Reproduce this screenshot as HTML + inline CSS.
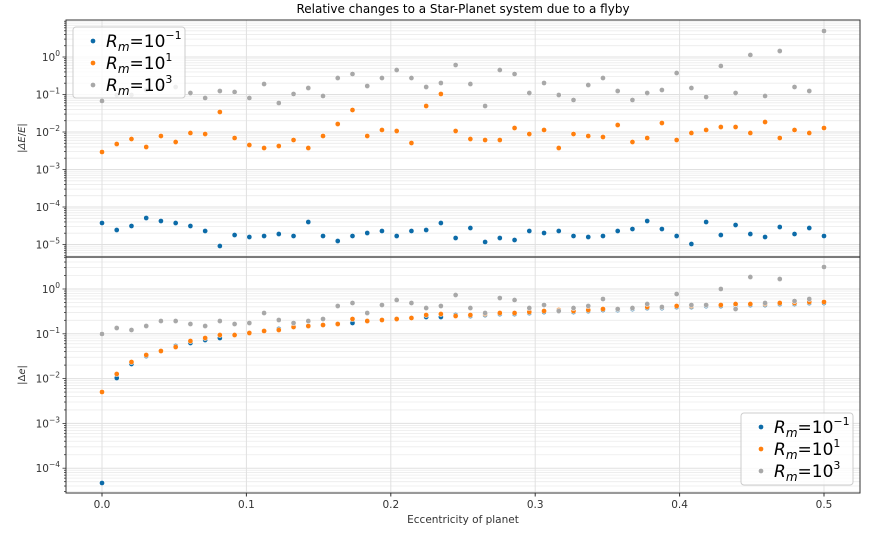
<!DOCTYPE html>
<html><head><meta charset="utf-8"><style>
html,body{margin:0;padding:0;background:#fff;}
svg{display:block;font-family:"DejaVu Sans","Liberation Sans",sans-serif;}
</style></head><body>
<svg id="s" width="877" height="544" viewBox="0 0 877 544" xmlns="http://www.w3.org/2000/svg">
<text x="463" y="13" font-size="12" text-anchor="middle" fill="#000">Relative changes to a Star-Planet system due to a flyby</text>
<g id="g"></g>
</svg>
<script>
const g=document.getElementById('g');
let h='';
const L=66,R=860,T1=20,B1=257,T2=257,B2=493;
const xp=i=>102+i*(722/49);
const xv=v=>102+v*1444;
const P=[{t:T1,b:B1,y0:57,d:37.5,emin:-6,emax:1,lab:[0,-1,-2,-3,-4,-5]},
         {t:T2,b:B2,y0:289,d:44.8,emin:-5,emax:1,lab:[0,-1,-2,-3,-4]}];
P.forEach(p=>{
  for(let e=p.emin;e<=p.emax;e++){
    for(let m=1;m<10;m++){
      const y=p.y0-p.d*(e+Math.log10(m));
      if(y<p.t||y>p.b)continue;
      h+=`<line x1="${L}" x2="${R}" y1="${y}" y2="${y}" stroke="${m==1?'#e0e0e0':'#ececec'}" stroke-width="${m==1?1:0.8}"/>`;
      h+=`<line x1="${L-(m==1?3.5:2)}" x2="${L}" y1="${y}" y2="${y}" stroke="#333" stroke-width="0.8"/>`;
    }
  }
  for(let k=0;k<=5;k++){const x=xv(k/10);h+=`<line x1="${x}" x2="${x}" y1="${p.t}" y2="${p.b}" stroke="#e0e0e0" stroke-width="1"/>`;}
  p.lab.forEach(e=>{const y=p.y0-p.d*e;
    h+=`<text x="${L-6}" y="${y+4}" font-size="10.5" text-anchor="end" fill="#333">10<tspan font-size="7.5" dy="-5">${e<0?'−'+(-e):e}</tspan></text>`;});
});
h+=`<rect x="${L}" y="${T1}" width="${R-L}" height="${B2-T1}" fill="none" stroke="#333" stroke-width="1"/>`;
h+=`<line x1="${L}" x2="${R}" y1="257" y2="257" stroke="#333" stroke-width="1.2"/>`;
for(let k=0;k<=5;k++){const x=xv(k/10);h+=`<line x1="${x}" x2="${x}" y1="${B2}" y2="${B2+3.5}" stroke="#333"/><text x="${x}" y="${B2+15}" font-size="10.5" text-anchor="middle" fill="#333">${(k/10).toFixed(1)}</text>`;}
h+=`<text x="463" y="${B2+30}" font-size="10.5" text-anchor="middle" fill="#333">Eccentricity of planet</text>`;
h+=`<text transform="translate(25,138) rotate(-90)" font-size="10" text-anchor="middle" fill="#333">|<tspan font-style="italic">ΔE</tspan>/<tspan font-style="italic">E</tspan>|</text>`;
h+=`<text transform="translate(25,375) rotate(-90)" font-size="10" text-anchor="middle" fill="#333">|Δ<tspan font-style="italic">e</tspan>|</text>`;
const C={b:'#0c6ba8',o:'#ff7f0e',g:'#a8a8a8'};
const tg=[101,95,95,90,88,87,93,98,91,92,98,84,103,94,88,96,78,74,86,78,70,78,87,83,65,84,106,70,74,93,83,95,100,85,78,91,100,93,90,73,88,97,66,93,55,96,51,87,91,31];
const to=[152,144,139,147,136,142,133,134,112,138,145,148,146,140,148,136,124,110,136,130,131,143,106,94,131,139,140,140,128,134,130,148,134,136,137,125,142,138,123,140,133,130,127,127,133,122,138,130,133,128];
const tb=[223,230,226,218,221,223,226,231,246,235,237,236,234,236,222,236,241,236,233,231,236,231,230,223,238,228,242,238,240,231,233,231,236,237,236,231,229,221,229,236,244,222,235,225,234,237,227,234,228,236];
const bg=[334,328,330,326,321,321,324,326,321,324,323,313,320,323,321,319,306,303,313,305,300,303,308,306,295,308,313,298,300,308,305,311,308,306,299,309,308,304,307,294,305,305,289,309,277,303,279,301,299,267];
const bo=[392,374,362,355,351,347,341,338,335,335,333,331,330,327,326,325,324,319,321,320,319,318,315,314,316,315,314,313,313,312,311,310,311,310,309,309,308,307,307,306,306,305,305,304,304,304,303,303,302,302];
const bb=[483,378,364,356,351,346,343,340,338,335,333,331,329,327,326,325,324,323,321,320,319,318,317,317,315,316,315,314,314,313,312,311,312,311,310,310,309,308,308,307,307,306,306,305,305,305,304,304,303,303];
const dot=(x,y,c)=>`<circle cx="${x}" cy="${y}" r="2.6" fill="${c}" stroke="#fff" stroke-width="0.5"/>`;
[[tb,C.b],[to,C.o],[tg,C.g],[bb,C.b],[bo,C.o],[bg,C.g]].forEach(([a,c])=>a.forEach((y,i)=>h+=dot(xp(i),y,c)));
function leg(x,y,w,hh){
  let s=`<rect x="${x}" y="${y}" width="${w}" height="${hh}" rx="3" fill="#fff" fill-opacity="0.8" stroke="#ccc"/>`;
  [['−1',C.b],['1',C.o],['3',C.g]].forEach(([e,c],k)=>{const yy=y+14+k*22;
    s+=dot(x+20,yy,c);
    s+=`<text x="${x+33}" y="${yy+6}" font-size="17" fill="#000"><tspan font-style="italic">R</tspan><tspan font-size="12" font-style="italic" dy="4">m</tspan><tspan dy="-4">=10</tspan><tspan font-size="11" dy="-8">${e}</tspan></text>`;});
  return s;
}
h+=leg(73,27,112,71);
h+=leg(741,413,112,72);
g.innerHTML=h;
</script>
</body></html>
